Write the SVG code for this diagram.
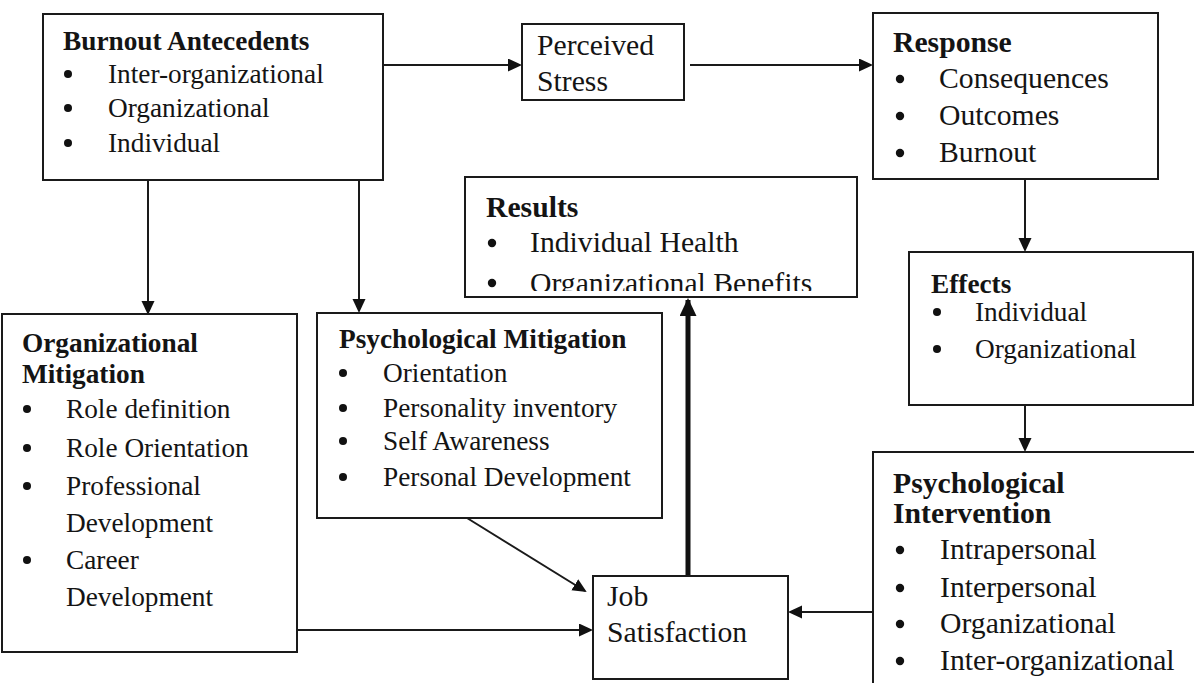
<svg xmlns="http://www.w3.org/2000/svg" width="1194" height="683" viewBox="0 0 1194 683">
<defs>
<style>
.box{fill:#fff;stroke:#1a1a1a;stroke-width:2}
.t{font-family:"Liberation Serif","Times New Roman",serif;fill:#141414}
.s{font-size:27.3px}
.l{font-size:29.7px}
.b{font-weight:bold}
.dot{fill:#111}
.c{fill:none;stroke:#1a1a1a;stroke-width:2}
.thick{fill:none;stroke:#111;stroke-width:5}
</style>
<marker id="ah" markerUnits="userSpaceOnUse" markerWidth="16" markerHeight="14" refX="12" refY="6.5" orient="auto">
<path d="M0,0 L14,6.5 L0,13 z" fill="#111"/>
</marker>
<marker id="ahb" markerUnits="userSpaceOnUse" markerWidth="20" markerHeight="18" refX="16" refY="8.5" orient="auto">
<path d="M0,0 L18,8.5 L0,17 z" fill="#111"/>
</marker>
<clipPath id="resclip"><rect x="465" y="177" width="392" height="114"/></clipPath>
</defs>
<rect width="1194" height="683" fill="#fff"/>

<g id="connectors">
<path class="c" d="M383,65 H520" marker-end="url(#ah)"/>
<path class="c" d="M690,65 H871" marker-end="url(#ah)"/>
<path class="c" d="M148,180 V313" marker-end="url(#ah)"/>
<path class="c" d="M359,180 V311" marker-end="url(#ah)"/>
<path class="c" d="M1025,179 V250" marker-end="url(#ah)"/>
<path class="c" d="M1025,405 V450" marker-end="url(#ah)"/>
<path class="c" d="M467,518 L585,591" marker-end="url(#ah)"/>
<path class="c" d="M297,630 H591" marker-end="url(#ah)"/>
<path class="c" d="M873,612 H790" marker-end="url(#ah)"/>
<path class="thick" d="M688,575 V300" marker-end="url(#ahb)"/>
</g>

<g id="burnout-antecedents">
<rect class="box" x="43" y="14" width="340" height="166"/>
<text class="t s b" x="63" y="50">Burnout Antecedents</text>
<circle class="dot" cx="68" cy="74" r="4"/>
<text class="t s" x="108" y="83">Inter-organizational</text>
<circle class="dot" cx="68" cy="108" r="4"/>
<text class="t s" x="108" y="117">Organizational</text>
<circle class="dot" cx="68" cy="143" r="4"/>
<text class="t s" x="108" y="152">Individual</text>
</g>

<g id="perceived-stress">
<rect class="box" x="522" y="24" width="162" height="76"/>
<text class="t l" x="537" y="55">Perceived</text>
<text class="t l" x="537" y="91">Stress</text>
</g>

<g id="response">
<rect class="box" x="873" y="13" width="285" height="166"/>
<text class="t l b" x="893" y="52">Response</text>
<circle class="dot" cx="900" cy="79" r="4.2"/>
<text class="t l" x="939" y="88">Consequences</text>
<circle class="dot" cx="900" cy="116" r="4.2"/>
<text class="t l" x="939" y="125">Outcomes</text>
<circle class="dot" cx="900" cy="153" r="4.2"/>
<text class="t l" x="939" y="162">Burnout</text>
</g>

<g id="results">
<rect class="box" x="465" y="177" width="392" height="120"/>
<text class="t l b" x="486" y="217">Results</text>
<circle class="dot" cx="492" cy="243" r="4.2"/>
<text class="t l" x="530" y="252">Individual Health</text>
<circle class="dot" cx="492" cy="283" r="4.2"/>
<text class="t l" x="530" y="293" clip-path="url(#resclip)">Organizational Benefits</text>
</g>

<g id="effects">
<rect class="box" x="909" y="252" width="284" height="153"/>
<text class="t s b" x="931" y="293">Effects</text>
<circle class="dot" cx="937" cy="312" r="4"/>
<text class="t s" x="975" y="321">Individual</text>
<circle class="dot" cx="937" cy="349" r="4"/>
<text class="t s" x="975" y="358">Organizational</text>
</g>

<g id="organizational-mitigation">
<rect class="box" x="2" y="314" width="295" height="338"/>
<text class="t s b" x="22" y="352">Organizational</text>
<text class="t s b" x="22" y="383">Mitigation</text>
<circle class="dot" cx="27" cy="409" r="4"/>
<text class="t s" x="66" y="418">Role definition</text>
<circle class="dot" cx="27" cy="448" r="4"/>
<text class="t s" x="66" y="457">Role Orientation</text>
<circle class="dot" cx="27" cy="486" r="4"/>
<text class="t s" x="66" y="495">Professional</text>
<text class="t s" x="66" y="532">Development</text>
<circle class="dot" cx="27" cy="560" r="4"/>
<text class="t s" x="66" y="569">Career</text>
<text class="t s" x="66" y="606">Development</text>
</g>

<g id="psychological-mitigation">
<rect class="box" x="317" y="313" width="345" height="205"/>
<text class="t s b" x="339" y="348">Psychological Mitigation</text>
<circle class="dot" cx="343" cy="373" r="4"/>
<text class="t s" x="383" y="382">Orientation</text>
<circle class="dot" cx="343" cy="408" r="4"/>
<text class="t s" x="383" y="417">Personality inventory</text>
<circle class="dot" cx="343" cy="441" r="4"/>
<text class="t s" x="383" y="450">Self Awareness</text>
<circle class="dot" cx="343" cy="477" r="4"/>
<text class="t s" x="383" y="486">Personal Development</text>
</g>

<g id="job-satisfaction">
<rect class="box" x="593" y="576" width="195" height="103"/>
<text class="t l" x="607" y="606">Job</text>
<text class="t l" x="607" y="642">Satisfaction</text>
</g>

<g id="psychological-intervention">
<rect class="box" x="873" y="452" width="340" height="250"/>
<text class="t l b" x="893" y="493">Psychological</text>
<text class="t l b" x="893" y="523">Intervention</text>
<circle class="dot" cx="900" cy="550" r="4.2"/>
<text class="t l" x="940" y="559">Intrapersonal</text>
<circle class="dot" cx="900" cy="588" r="4.2"/>
<text class="t l" x="940" y="597">Interpersonal</text>
<circle class="dot" cx="900" cy="624" r="4.2"/>
<text class="t l" x="940" y="633">Organizational</text>
<circle class="dot" cx="900" cy="661" r="4.2"/>
<text class="t l" x="940" y="670">Inter-organizational</text>
</g>
</svg>
